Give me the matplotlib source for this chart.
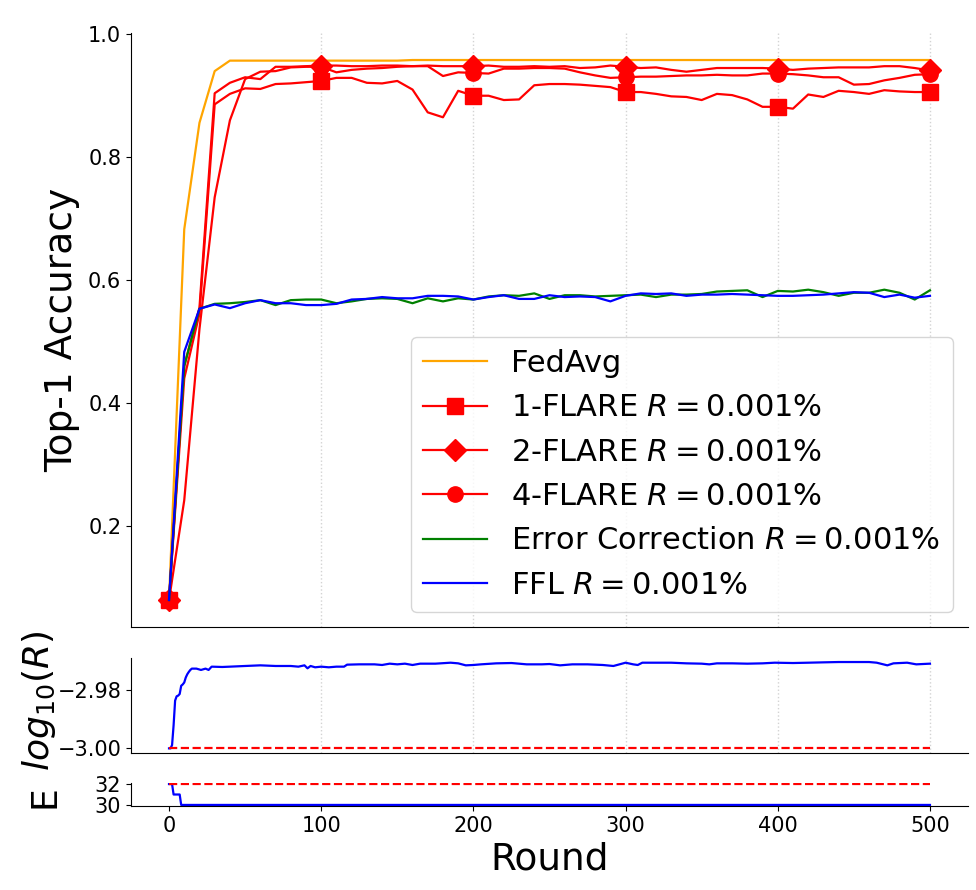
import numpy as np
import matplotlib
matplotlib.use("Agg")
import matplotlib.pyplot as plt

# ---------------- data ----------------
rounds = list(range(0, 501, 10))

fedavg = [0.080, 0.682, 0.855, 0.939, 0.956, 0.956, 0.956, 0.956, 0.956, 0.956,
          0.956, 0.956, 0.956, 0.956, 0.956, 0.956, 0.957, 0.957, 0.957, 0.957,
          0.957, 0.957, 0.957, 0.957, 0.957, 0.957, 0.957, 0.957, 0.957, 0.957,
          0.957, 0.957, 0.957, 0.957, 0.957, 0.957, 0.957, 0.957, 0.957, 0.957,
          0.957, 0.957, 0.957, 0.957, 0.957, 0.957, 0.957, 0.957, 0.957, 0.957, 0.957]

flare1 = [0.080, 0.440, 0.545, 0.885, 0.902, 0.911, 0.910, 0.918, 0.919, 0.921,
          0.923, 0.928, 0.928, 0.920, 0.919, 0.923, 0.909, 0.872, 0.864, 0.907,
          0.899, 0.899, 0.892, 0.893, 0.916, 0.918, 0.918, 0.917, 0.915, 0.913,
          0.905, 0.905, 0.902, 0.898, 0.897, 0.892, 0.902, 0.900, 0.893, 0.881,
          0.881, 0.878, 0.901, 0.897, 0.907, 0.905, 0.902, 0.908, 0.906, 0.905, 0.905]

flare2 = [0.080, 0.460, 0.555, 0.903, 0.920, 0.929, 0.926, 0.946, 0.946, 0.947,
          0.948, 0.948, 0.947, 0.947, 0.948, 0.948, 0.947, 0.948, 0.947, 0.947,
          0.947, 0.948, 0.946, 0.946, 0.947, 0.946, 0.947, 0.944, 0.945, 0.948,
          0.946, 0.944, 0.945, 0.941, 0.938, 0.941, 0.944, 0.944, 0.944, 0.944,
          0.943, 0.941, 0.943, 0.944, 0.945, 0.945, 0.945, 0.947, 0.947, 0.944, 0.940]

flare4 = [0.080, 0.242, 0.520, 0.734, 0.859, 0.926, 0.938, 0.939, 0.945, 0.946,
          0.946, 0.937, 0.941, 0.943, 0.944, 0.946, 0.947, 0.947, 0.931, 0.937,
          0.936, 0.935, 0.943, 0.943, 0.944, 0.944, 0.943, 0.937, 0.932, 0.928,
          0.929, 0.930, 0.930, 0.931, 0.932, 0.932, 0.933, 0.932, 0.932, 0.935,
          0.935, 0.934, 0.932, 0.929, 0.929, 0.917, 0.918, 0.924, 0.928, 0.933, 0.934]

err_corr = [0.080, 0.460, 0.553, 0.561, 0.562, 0.564, 0.567, 0.559, 0.567, 0.568,
            0.568, 0.562, 0.565, 0.569, 0.570, 0.569, 0.562, 0.570, 0.565, 0.570,
            0.568, 0.573, 0.575, 0.574, 0.578, 0.569, 0.575, 0.575, 0.573, 0.574,
            0.575, 0.576, 0.572, 0.576, 0.576, 0.577, 0.581, 0.582, 0.583, 0.572,
            0.582, 0.581, 0.584, 0.580, 0.574, 0.579, 0.579, 0.584, 0.579, 0.568, 0.583]

ffl = [0.080, 0.483, 0.553, 0.560, 0.554, 0.562, 0.567, 0.562, 0.562, 0.559,
       0.559, 0.561, 0.568, 0.569, 0.572, 0.570, 0.570, 0.574, 0.574, 0.573,
       0.568, 0.572, 0.575, 0.569, 0.569, 0.575, 0.572, 0.573, 0.572, 0.565,
       0.574, 0.578, 0.577, 0.578, 0.574, 0.576, 0.576, 0.577, 0.576, 0.575,
       0.574, 0.574, 0.575, 0.576, 0.578, 0.580, 0.579, 0.572, 0.576, 0.571, 0.574]

# log10(R) of FFL over rounds
logr_rounds = [0, 1, 2, 3, 4, 5, 6, 7, 8, 9, 10, 11, 12, 13, 14, 15, 18, 21, 24, 26,
               28, 35, 40, 50, 60, 70, 80, 85, 89, 91, 93, 96, 100, 105, 110, 115, 117,
               125, 135, 140, 145, 150, 155, 160, 165, 175, 185, 190, 195, 200, 205,
               215, 225, 235, 245, 250, 257, 265, 275, 285, 292, 300, 305, 308, 311,
               320, 330, 340, 350, 355, 360, 370, 380, 390, 398, 410, 420, 430, 440,
               450, 460, 465, 472, 476, 485, 491, 500]
logr_values = [-3.00000, -3.00000, -2.99889, -2.99214, -2.98371, -2.98225, -2.98202,
               -2.98146, -2.97865, -2.97820, -2.97753, -2.97584, -2.97472, -2.97393,
               -2.97326, -2.97281, -2.97281, -2.97326, -2.97281, -2.97326, -2.97214,
               -2.97225, -2.97214, -2.97191, -2.97169, -2.97191, -2.97191, -2.97214,
               -2.97169, -2.97270, -2.97191, -2.97236, -2.97214, -2.97236, -2.97214,
               -2.97214, -2.97146, -2.97135, -2.97135, -2.97157, -2.97112, -2.97135,
               -2.97112, -2.97157, -2.97112, -2.97112, -2.97079, -2.97101, -2.97169,
               -2.97157, -2.97135, -2.97101, -2.97090, -2.97135, -2.97135, -2.97124,
               -2.97169, -2.97135, -2.97135, -2.97157, -2.97191, -2.97079, -2.97135,
               -2.97157, -2.97079, -2.97079, -2.97079, -2.97101, -2.97112, -2.97135,
               -2.97101, -2.97101, -2.97112, -2.97101, -2.97079, -2.97090, -2.97079,
               -2.97067, -2.97056, -2.97056, -2.97056, -2.97079, -2.97169, -2.97101,
               -2.97079, -2.97135, -2.97112]

# target log10(R) and E
target_rounds = [0, 500]
target_logr = [-3.0, -3.0]
target_e = [32, 32]

e_rounds = [0, 2, 3, 7, 8, 500]
e_values = [32, 32, 31, 31, 30, 30]

grid_rounds = [100, 200, 300, 400, 500]
xticks = [0, 100, 200, 300, 400, 500]
logr_ticks = [-3.00, -2.98]
e_ticks = [30, 32]

# ---------------- figure ----------------
fig = plt.figure(figsize=(9.76, 8.9), dpi=100)
L, W = 0.1342, 0.8576
ax1 = fig.add_axes([L, 0.2955, W, 0.6674])
ax2 = fig.add_axes([L, 0.1543, W, 0.1067], sharex=ax1)
ax3 = fig.add_axes([L, 0.0944, W, 0.0258], sharex=ax1)

lw = 1.6
ms = 11
ax1.plot(rounds, fedavg, color='orange', lw=lw, label='FedAvg')
ax1.plot(rounds, flare1, color='red', lw=lw, marker='s', ms=ms, markevery=10,
         label=r'1-FLARE $R = 0.001\%$')
ax1.plot(rounds, flare2, color='red', lw=lw, marker='D', ms=ms, markevery=10,
         label=r'2-FLARE $R = 0.001\%$')
ax1.plot(rounds, flare4, color='red', lw=lw, marker='o', ms=ms, markevery=10,
         label=r'4-FLARE $R = 0.001\%$')
ax1.plot(rounds, err_corr, color='green', lw=lw,
         label=r'Error Correction $R = 0.001\%$')
ax1.plot(rounds, ffl, color='blue', lw=lw, label=r'FFL $R = 0.001\%$')

ax2.plot(logr_rounds, logr_values, color='blue', lw=lw)
ax2.plot(target_rounds, target_logr, color='red', lw=lw, ls='--')

ax3.plot(e_rounds, e_values, color='blue', lw=lw)
ax3.plot(target_rounds, target_e, color='red', lw=lw, ls='--')

for ax in (ax1, ax2):
    for g in grid_rounds:
        ax.axvline(g, color='lightgray', ls=':', lw=1.0, zorder=0)

for ax in (ax1, ax2, ax3):
    ax.spines['top'].set_visible(False)
    ax.spines['right'].set_visible(False)
    ax.tick_params(axis='both', labelsize=15)

ax1.tick_params(axis='x', bottom=False, labelbottom=False)
ax2.tick_params(axis='x', bottom=False, labelbottom=False)
ax3.set_xticks(xticks)

ax2.set_yticks(logr_ticks)
ax2.set_yticklabels(['\u22123.00', '\u22122.98'])
ax3.set_yticks(e_ticks)

ax1.legend(loc='lower right', fontsize=22, handlelength=2.1)

fig.text(0.0635, 0.629, 'Top-1 Accuracy', rotation=90, ha='center', va='center', fontsize=27)
fig.text(0.040, 0.213, r'$log_{10}(R)$', rotation=90, ha='center', va='center', fontsize=26)
fig.text(0.0461, 0.105, 'E', rotation=90, ha='center', va='center', fontsize=26)
ax3.set_xlabel('Round', fontsize=27)

fig.savefig('out.png', dpi=100)
